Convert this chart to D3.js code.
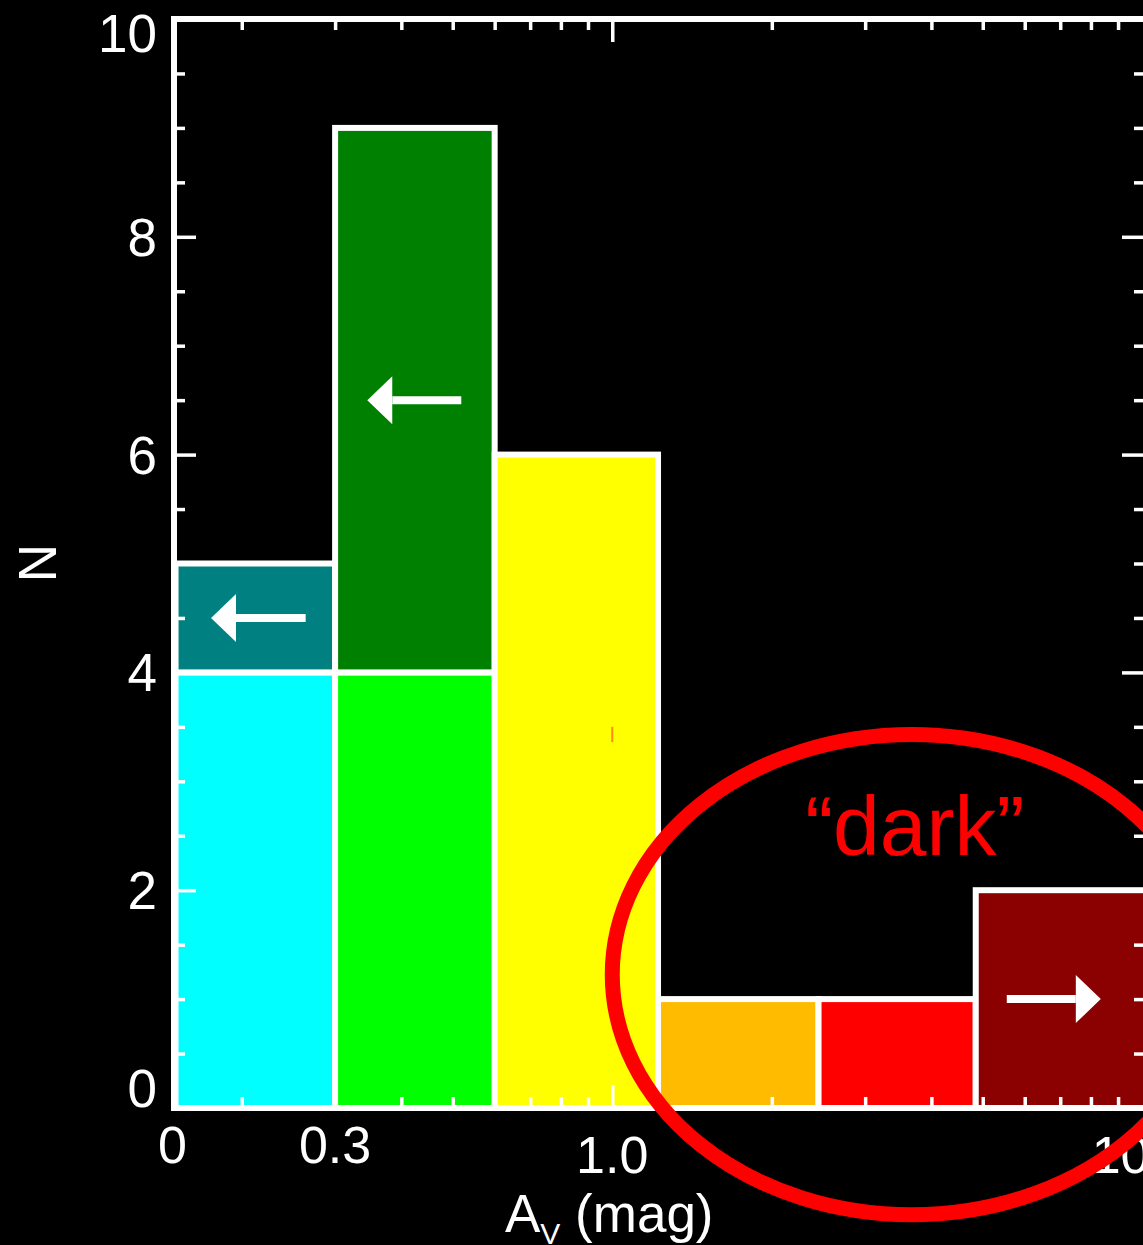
<!DOCTYPE html>
<html>
<head>
<meta charset="utf-8">
<script src="https://cdn.jsdelivr.net/npm/d3@7"></script>
<style>
  body { margin: 0; background: #000; }
  svg { display: block; font-family: "Liberation Sans", Arial, Helvetica, sans-serif; }
</style>
</head>
<body>
<div id="chart"></div>
<script>
const WIDTH = 1143; // page width
const HEIGHT = 1245; // page height

// histogram bins (A_V, mag) and counts
const binEdges = [0.15, 0.3, 0.6, 1.22, 2.45, 4.85, 10.25];
const detCounts = [4, 4, 6, 1, 1, 2];       // lower (measured) part of each bar
const limitCounts = [1, 5, 0, 0, 0, 0];     // upper-limit part stacked on top
const detColors = ["#00ffff", "#00ff00", "#ffff00", "#ffbb00", "#ff0000", "#8b0000"];
const limitColors = ["#008080", "#008000", "none", "none", "none", "none"];

// limit arrows: start/end in A_V and height in N
const arrowFrom = [0.264, 0.519, 5.55];
const arrowTo = [0.175, 0.345, 8.35];
const arrowN = [4.5, 6.5, 1.0];

// tick labels
const xLabelValues = [0.148, 0.3, 1.0, 9.1];
const xLabels = ["0", "0.3", "1.0", "10"];
const yLabelValues = [0, 2, 4, 6, 8, 10];
const xMinorTicks = [0.2, 0.3, 0.4, 0.5, 0.6, 0.7, 0.8, 0.9, 2, 3, 4, 5, 6, 7, 8, 9];
const xMajorTicks = [1];
const yMinorTicks = [0.5, 1, 1.5, 2.5, 3, 3.5, 4.5, 5, 5.5, 6.5, 7, 7.5, 8.5, 9, 9.5];
const yMajorTicks = [2, 4, 6, 8];

// "dark" ellipse extent (A_V from-to, N from-to)
const darkAv = [1.0, 13.5];
const darkN = [-0.98, 3.43];

const x = d3.scaleLog().domain([0.149, 10.25]).range([174, 1148]);
const y = d3.scaleLinear().domain([0, 10]).range([1108, 19]);

const svg = d3.select("#chart").append("svg")
  .attr("width", WIDTH)
  .attr("height", HEIGHT);

svg.append("rect").attr("width", WIDTH).attr("height", HEIGHT).attr("fill", "#000");

// build bar segments
const segs = [];
detCounts.forEach((c, i) => {
  segs.push({x0: binEdges[i], x1: binEdges[i + 1], y0: 0, y1: c, color: detColors[i]});
  if (limitCounts[i] > 0)
    segs.push({x0: binEdges[i], x1: binEdges[i + 1], y0: c, y1: c + limitCounts[i], color: limitColors[i]});
});

svg.append("g").selectAll("rect")
  .data(segs)
  .enter().append("rect")
  .attr("x", d => x(d.x0))
  .attr("y", d => y(d.y1))
  .attr("width", d => x(d.x1) - x(d.x0))
  .attr("height", d => y(d.y0) - y(d.y1))
  .attr("fill", d => d.color)
  .attr("stroke", "#fff")
  .attr("stroke-width", 6);

// arrows
const arrowG = svg.append("g");
arrowFrom.forEach((a, i) => {
  const xs = x(a), xe = x(arrowTo[i]), yy = y(arrowN[i]);
  const dir = xe > xs ? 1 : -1;
  const hb = xe - dir * 25; // head base
  arrowG.append("line")
    .attr("x1", xs).attr("x2", hb).attr("y1", yy).attr("y2", yy)
    .attr("stroke", "#fff").attr("stroke-width", 8);
  arrowG.append("path")
    .attr("d", `M${xe},${yy} L${hb},${yy - 24} L${hb},${yy + 24} Z`)
    .attr("fill", "#fff");
});

// small orange mark inside yellow bar
svg.append("line")
  .attr("x1", x(1.0)).attr("x2", x(1.0))
  .attr("y1", y(3.5)).attr("y2", y(3.36))
  .attr("stroke", "#ff8c00").attr("stroke-width", 2);

// ticks via d3 axes
function tickAxis(axis, tr) {
  const g = svg.append("g").attr("transform", tr).call(axis);
  g.select(".domain").remove();
  g.selectAll("line").attr("stroke", "#fff").attr("stroke-width", 3.5);
  g.selectAll("text").remove();
}
tickAxis(d3.axisBottom(x).tickValues(xMinorTicks).tickSize(-11).tickSizeOuter(0), `translate(0,${y(0)})`);
tickAxis(d3.axisBottom(x).tickValues(xMajorTicks).tickSize(-23).tickSizeOuter(0), `translate(0,${y(0)})`);
tickAxis(d3.axisTop(x).tickValues(xMinorTicks).tickSize(-11).tickSizeOuter(0), `translate(0,${y(10)})`);
tickAxis(d3.axisTop(x).tickValues(xMajorTicks).tickSize(-23).tickSizeOuter(0), `translate(0,${y(10)})`);
tickAxis(d3.axisLeft(y).tickValues(yMinorTicks).tickSize(-11).tickSizeOuter(0), `translate(${x.range()[0]},0)`);
tickAxis(d3.axisLeft(y).tickValues(yMajorTicks).tickSize(-22).tickSizeOuter(0), `translate(${x.range()[0]},0)`);
tickAxis(d3.axisRight(y).tickValues(yMinorTicks).tickSize(-14).tickSizeOuter(0), `translate(${x.range()[1]},0)`);
tickAxis(d3.axisRight(y).tickValues(yMajorTicks).tickSize(-26).tickSizeOuter(0), `translate(${x.range()[1]},0)`);

// frame
svg.append("rect")
  .attr("x", x.range()[0]).attr("y", y(10))
  .attr("width", x.range()[1] - x.range()[0])
  .attr("height", y(0) - y(10))
  .attr("fill", "none").attr("stroke", "#fff").attr("stroke-width", 6);

// y tick labels
svg.append("g").selectAll("text")
  .data(yLabelValues)
  .enter().append("text")
  .attr("x", 157)
  .attr("y", d => Math.min(Math.max(y(d), 33), 1088) + 19)
  .attr("text-anchor", "end")
  .attr("font-size", 53)
  .attr("fill", "#fff")
  .text(d => d);

// x tick labels
svg.append("g").selectAll("text")
  .data(xLabelValues)
  .enter().append("text")
  .attr("x", d => x(d))
  .attr("y", d => d >= 1 ? 1173 : 1163)
  .attr("text-anchor", "middle")
  .attr("font-size", 52)
  .attr("fill", "#fff")
  .text((d, i) => xLabels[i]);

// axis titles
const xt = svg.append("text")
  .attr("x", x(1.0) - 3).attr("y", 1232)
  .attr("text-anchor", "middle")
  .attr("font-size", 53)
  .attr("fill", "#fff");
xt.append("tspan").text("A");
xt.append("tspan").attr("font-size", 30).attr("dy", 12).text("V");
xt.append("tspan").attr("dy", -12).text(" (mag)");

svg.append("text")
  .attr("transform", "translate(56,563) rotate(-90)")
  .attr("text-anchor", "middle")
  .attr("font-size", 53)
  .attr("fill", "#fff")
  .text("N");

// "dark" annotation
const ex0 = x(darkAv[0]), ex1 = x(darkAv[1]);
const ey0 = y(darkN[1]), ey1 = y(darkN[0]);
svg.append("ellipse")
  .attr("cx", (ex0 + ex1) / 2).attr("cy", (ey0 + ey1) / 2)
  .attr("rx", (ex1 - ex0) / 2).attr("ry", (ey1 - ey0) / 2)
  .attr("fill", "none").attr("stroke", "#ff0000").attr("stroke-width", 15);

svg.append("text")
  .attr("x", (ex0 + ex1) / 2 + 3).attr("y", y(2.32))
  .attr("text-anchor", "middle")
  .attr("font-size", 84)
  .attr("fill", "#ff0000")
  .text("\u201cdark\u201d");
</script>
</body>
</html>
